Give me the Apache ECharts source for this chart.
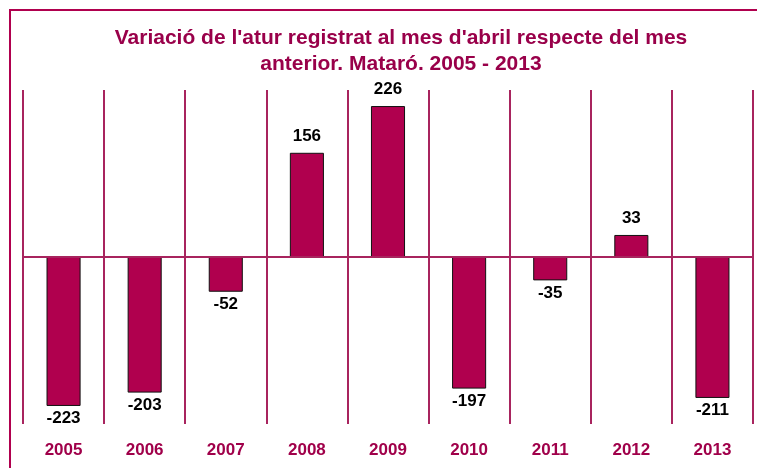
<!DOCTYPE html>
<html>
<head>
<meta charset="utf-8">
<script src="https://cdn.jsdelivr.net/npm/echarts@6/dist/echarts.min.js"></script>
<style>
  html, body { margin: 0; padding: 0; background: #fff; }
  #chart { width: 757px; height: 468px; }
</style>
</head>
<body>
<div id="chart"></div>
<script>
const years = ['2005', '2006', '2007', '2008', '2009', '2010', '2011', '2012', '2013'];
const variation = [-223, -203, -52, 156, 226, -197, -35, 33, -211];
const titleText = "Variació de l'atur registrat al mes d'abril respecte del mes\nanterior. Mataró. 2005 - 2013";

const chart = echarts.init(document.getElementById('chart'), null, { renderer: 'canvas' });

// labels go above positive bars and below negative ones
const barData = variation.map(v => ({
    value: v,
    label: { position: v >= 0 ? 'top' : 'bottom', distance: v >= 0 ? 8 : 4 }
}));

const option = {
    animation: false,
    title: {
        text: titleText,
        left: 396,
        top: 20,
        textAlign: 'center',
        textStyle: {
            color: '#99004A',
            fontFamily: 'Liberation Sans',
            fontWeight: 'bold',
            fontSize: 21,
            lineHeight: 26
        }
    },
    graphic: [
        {
            type: 'polyline',
            shape: { points: [[10, 470], [10, 10], [760, 10]] },
            style: { stroke: '#B0004E', lineWidth: 2, fill: null }
        }
    ],
    grid: { left: 23, right: 4, top: 90, bottom: 44 },
    xAxis: {
        type: 'category',
        data: years,
        axisLine: { show: false },
        axisTick: { show: false },
        axisLabel: {
            margin: 18,
            color: '#A0004A',
            fontFamily: 'Liberation Sans',
            fontWeight: 'bold',
            fontSize: 17
        },
        splitLine: { show: true, lineStyle: { color: '#A8245E', width: 2 } }
    },
    yAxis: {
        type: 'value',
        min: -250,
        max: 250,
        interval: 250,
        show: false,
        splitLine: { show: false }
    },
    series: [
        {
            type: 'bar',
            data: barData,
            barWidth: '42%',
            itemStyle: { color: '#B0004E', borderColor: '#111', borderWidth: 1 },
            label: {
                show: true,
                color: '#000',
                fontFamily: 'Liberation Sans',
                fontWeight: 'bold',
                fontSize: 17
            },
            markLine: {
                silent: true,
                symbol: 'none',
                label: { show: false },
                lineStyle: { color: '#A8245E', width: 2, type: 'solid' },
                data: [{ yAxis: 0 }]
            }
        }
    ]
};

chart.setOption(option);
</script>
</body>
</html>
